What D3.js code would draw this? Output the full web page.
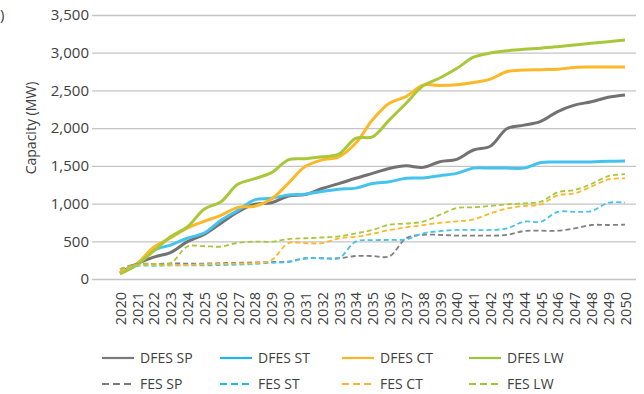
<!DOCTYPE html>
<html>
<head>
<meta charset="utf-8">
<script src="https://cdn.jsdelivr.net/npm/d3@7"></script>
<style>
  html, body { margin: 0; padding: 0; background: #fff; }
  svg { display: block; font-family: "Open Sans", "Noto Sans", sans-serif; }
</style>
</head>
<body>
<svg id="chart" width="644" height="394"></svg>
<script>
// Installed capacity by scenario, 2020-2050 (MW)
const years = d3.range(2020, 2051);

const dfesSP = [80, 200, 290, 350, 495, 590, 740, 890, 990, 1010, 1100, 1120, 1200, 1265, 1335, 1400,
  1465, 1500, 1480, 1555, 1585, 1710, 1760, 1995, 2040, 2090, 2220, 2305, 2350, 2410, 2440];
const dfesST = [80, 190, 380, 450, 540, 610, 780, 910, 1050, 1070, 1115, 1125, 1160, 1190, 1205, 1265,
  1290, 1335, 1340, 1370, 1400, 1470, 1470, 1470, 1470, 1545, 1550, 1550, 1552, 1560, 1565];
const dfesCT = [80, 200, 420, 545, 675, 765, 845, 950, 965, 1060, 1270, 1490, 1580, 1620, 1800, 2110,
  2330, 2420, 2570, 2565, 2575, 2605, 2650, 2750, 2770, 2775, 2780, 2805, 2810, 2810, 2810];
const dfesLW = [66, 190, 370, 560, 690, 925, 1025, 1255, 1330, 1410, 1580, 1595, 1620, 1655, 1865, 1885,
  2110, 2330, 2560, 2665, 2790, 2940, 2995, 3025, 3045, 3060, 3080, 3102, 3124, 3146, 3168];
const fesSP = [130, 200, 200, 205, 205, 205, 210, 215, 220, 225, 230, 275, 275, 275, 305, 305,
  300, 540, 585, 585, 575, 575, 575, 585, 636, 640, 640, 670, 716, 716, 720];
const fesST = [120, 175, 175, 180, 180, 180, 185, 190, 200, 215, 225, 272, 275, 275, 495, 515,
  518, 525, 605, 635, 650, 650, 650, 672, 760, 760, 890, 890, 900, 1010, 1012];
const fesCT = [110, 185, 185, 180, 185, 195, 200, 205, 210, 250, 475, 475, 475, 540, 560, 600,
  650, 685, 715, 745, 765, 790, 870, 935, 968, 990, 1110, 1135, 1225, 1320, 1335];
const fesLW = [130, 195, 200, 210, 430, 435, 430, 480, 495, 495, 530, 540, 550, 565, 605, 650,
  720, 735, 760, 850, 940, 950, 968, 990, 1003, 1025, 1150, 1180, 1260, 1365, 1390];

const yTicks = [0, 500, 1000, 1500, 2000, 2500, 3000, 3500];
const seriesNames = ["DFES SP", "DFES ST", "DFES CT", "DFES LW", "FES SP", "FES ST", "FES CT", "FES LW"];
const seriesValues = [dfesSP, dfesST, dfesCT, dfesLW, fesSP, fesST, fesCT, fesLW];
const seriesColors = ["#727272", "#45c3ef", "#fdb82a", "#a8c83a", "#808080", "#45c3ef", "#fdb82a", "#a8c83a"];
const legendColors = ["#7a7a7a", "#1fb8e6", "#fdb42a", "#9dc53a", "#7a7a7a", "#1fb8e6", "#fdb42a", "#9dc53a"];

const svg = d3.select("#chart");
const gridLeft = 92, gridRight = 636;

const x = d3.scaleLinear().domain([2020, 2050]).range([120, 625]);
const y = d3.scaleLinear().domain([0, 3500]).range([279, 15]);

// closing bracket left over from the neighbouring panel's label
svg.append("text").attr("x", 0).attr("y", 20)
  .attr("font-size", 15).attr("fill", "#404040").text(")");

// y axis with gridlines
const yAxis = svg.append("g")
  .attr("transform", `translate(${gridLeft},0)`)
  .call(d3.axisLeft(y).tickValues(yTicks).tickFormat(d3.format(","))
    .tickSize(-(gridRight - gridLeft)).tickPadding(3));
yAxis.select(".domain").remove();
yAxis.selectAll(".tick line").attr("stroke", "#c4c4c4").attr("stroke-width", 1.3);
yAxis.selectAll(".tick text").attr("font-size", 15).attr("fill", "#404040")
  .attr("font-family", "'Open Sans', sans-serif");

// y axis title
svg.append("text")
  .attr("transform", "translate(36,128) rotate(-90)")
  .attr("text-anchor", "middle")
  .attr("font-size", 14).attr("fill", "#404040")
  .text("Capacity (MW)");

// x axis, one rotated label per year
const xAxis = svg.append("g")
  .attr("transform", `translate(0,${y(0)})`)
  .call(d3.axisBottom(x).tickValues(years).tickFormat(d3.format("d")).tickSize(0));
xAxis.select(".domain").remove();
xAxis.selectAll(".tick text")
  .attr("font-size", 14.5).attr("fill", "#404040")
  .attr("font-family", "'Open Sans', sans-serif")
  .attr("text-anchor", "end")
  .attr("transform", "rotate(-90)")
  .attr("x", -13).attr("y", 0).attr("dy", "0.36em");

// series lines
const line = d3.line()
  .x((d, i) => x(years[i]))
  .y(d => y(d))
  .curve(d3.curveCatmullRom.alpha(0.5));

const plot = svg.append("g");
seriesValues.forEach((vals, k) => {
  const dashed = k >= 4;
  plot.append("path")
    .datum(vals)
    .attr("d", line)
    .attr("fill", "none")
    .attr("stroke", seriesColors[k])
    .attr("stroke-width", dashed ? 1.8 : 3)
    .attr("stroke-dasharray", dashed ? "5,3" : null)
    .attr("stroke-linejoin", "round");
});

// legend: two rows of four
const legendCols = [102, 220, 342, 469];
const legendRows = [358, 384];
const legend = svg.append("g");
seriesNames.forEach((name, k) => {
  const cx = legendCols[k % 4];
  const cy = legendRows[Math.floor(k / 4)];
  const dashed = k >= 4;
  legend.append("line")
    .attr("x1", cx).attr("x2", cx + 32).attr("y1", cy).attr("y2", cy)
    .attr("stroke", legendColors[k]).attr("stroke-width", 2.2)
    .attr("stroke-dasharray", dashed ? "7,4" : null);
  legend.append("text")
    .attr("x", cx + 38).attr("y", cy).attr("dy", "0.35em")
    .attr("font-size", 14).attr("fill", "#404040")
    .text(name);
});
</script>
</body>
</html>
